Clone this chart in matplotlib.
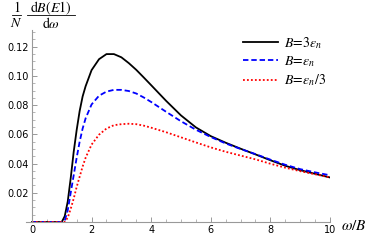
import numpy as np
import matplotlib.pyplot as plt
from matplotlib.ticker import MultipleLocator
from matplotlib.lines import Line2D

plt.rcParams['mathtext.fontset'] = 'stix'

# omega / B grid
omega = [0, 1.0, 1.1, 1.2, 1.3, 1.4, 1.5, 1.6, 1.7, 1.8, 2.0, 2.25, 2.5, 2.75,
         3.0, 3.25, 3.5, 3.75, 4.0, 4.5, 5.0, 5.5, 6.0, 6.5, 7.0, 7.5, 8.0,
         8.5, 9.0, 9.5, 10.0]

b_3eps = [0, 0, 0.004, 0.014, 0.030, 0.048, 0.063, 0.076, 0.086, 0.093, 0.104,
          0.1115, 0.1150, 0.1150, 0.1128, 0.1088, 0.1042, 0.0990, 0.0937,
          0.0830, 0.0730, 0.0648, 0.0588, 0.0543, 0.0502, 0.0463, 0.0423,
          0.0385, 0.0355, 0.0330, 0.0305]
b_eps = [0, 0, 0.001, 0.008, 0.020, 0.032, 0.044, 0.055, 0.064, 0.071, 0.0805,
         0.0865, 0.0893, 0.0905, 0.0905, 0.0897, 0.0880, 0.0853, 0.0822,
         0.0755, 0.0690, 0.0632, 0.0582, 0.0538, 0.0500, 0.0465, 0.0427,
         0.0392, 0.0362, 0.0340, 0.0320]
b_eps3 = [0, 0, 0.0, 0.003, 0.009, 0.016, 0.024, 0.031, 0.038, 0.044, 0.053,
          0.0598, 0.0640, 0.0663, 0.0670, 0.0673, 0.0670, 0.0660, 0.0646,
          0.0615, 0.0580, 0.0545, 0.0511, 0.0481, 0.0455, 0.0429, 0.0399,
          0.0372, 0.0348, 0.0327, 0.0305]

labels = [r'$B\!=\!3\epsilon_n$', r'$B\!=\!\epsilon_n$', r'$B\!=\!\epsilon_n/3$']

fig = plt.figure(figsize=(3.74, 2.40), dpi=100)
ax = fig.add_axes([26 / 374, 18 / 240, (330 - 26) / 374, (210 - 18) / 240])

ax.plot(omega, b_3eps, color='black', lw=1.3, label=labels[0])
ax.plot(omega, b_eps, color='blue', lw=1.3, ls=(0, (3, 1.6)), label=labels[1])
ax.plot(omega, b_eps3, color='red', lw=1.3, ls=(0, (1, 1.2)), label=labels[2])

ax.set_xlim(-0.2, 10.0)
ax.set_ylim(0, 0.1315)

for s in ['top', 'right']:
    ax.spines[s].set_visible(False)
ax.spines['left'].set_position(('data', 0))
for s in ['left', 'bottom']:
    ax.spines[s].set_color('#999999')
    ax.spines[s].set_linewidth(0.8)

ax.xaxis.set_major_locator(MultipleLocator(2))
ax.xaxis.set_minor_locator(MultipleLocator(0.5))
ax.set_yticks([0.02, 0.04, 0.06, 0.08, 0.10, 0.12])
ax.set_yticklabels(['0.02', '0.04', '0.06', '0.08', '0.10', '0.12'])
ax.yaxis.set_minor_locator(MultipleLocator(0.005))
ax.tick_params(which='both', direction='in', color='#999999', labelsize=7, pad=2)
ax.tick_params(which='major', length=3.5, width=0.7)
ax.tick_params(which='minor', length=2, width=0.5)

leg = ax.legend(loc='upper right', bbox_to_anchor=(1.03, 1.04), frameon=False,
                fontsize=10, handlelength=2.5, handletextpad=0.45, labelspacing=0.25)

# y-axis title: 1/N dB(E1)/dw built as two stacked fractions
W, H = 374, 240
def frac(num, den, xc, x0, x1):
    fig.text(xc / W, 1 - 8 / H, num, fontsize=10, ha='center', va='center')
    fig.text(xc / W, 1 - 23 / H, den, fontsize=10, ha='center', va='center')
    fig.add_artist(Line2D([x0 / W, x1 / W], [1 - 15 / H, 1 - 15 / H],
                          color='black', lw=0.6, transform=fig.transFigure))

frac(r'$1$', r'$N$', 16.5, 12, 21)
frac(r'$\mathrm{d}B(E1)$', r'$\mathrm{d}\omega$', 51, 27, 75)

fig.text(341 / W, 1 - 226 / H, r'$\omega/B$', fontsize=11, va='center', ha='left')

fig.savefig('out.png', dpi=100)
